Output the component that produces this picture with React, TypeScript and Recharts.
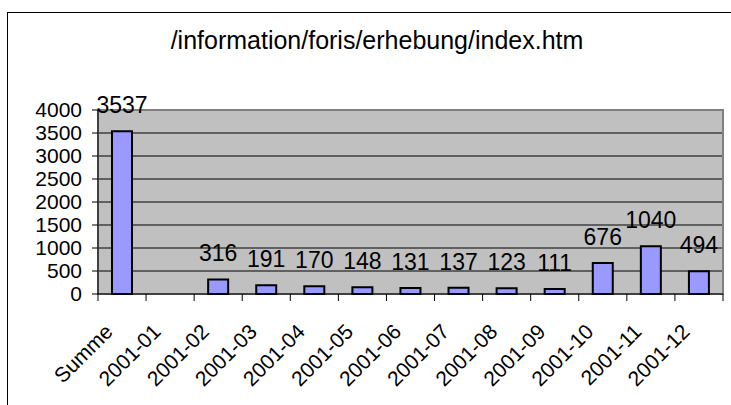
import { BarChart, Bar, XAxis, YAxis, CartesianGrid, ReferenceArea, LabelList } from 'recharts';

// page hits per month, "Summe" is the total
const months = ['Summe', '2001-01', '2001-02', '2001-03', '2001-04', '2001-05', '2001-06', '2001-07', '2001-08', '2001-09', '2001-10', '2001-11', '2001-12'];
const hits: (number | null)[] = [3537, null, 316, 191, 170, 148, 131, 137, 123, 111, 676, 1040, 494];
const yTicks = [0, 500, 1000, 1500, 2000, 2500, 3000, 3500, 4000];
const title = '/information/foris/erhebung/index.htm';

const data = months.map((month, i) => ({ month, hits: hits[i] }));

const FONT = '"Liberation Sans", Arial, sans-serif';

const MonthTick = (props: any) => {
  const { x, y, payload, index } = props;
  const half = payload.offset || 24;
  const isLast = index === months.length - 1;
  return (
    <g>
      <line x1={x - half} y1={y} x2={x - half} y2={y + 7} stroke="#000" />
      {isLast && <line x1={x + half} y1={y} x2={x + half} y2={y + 7} stroke="#000" />}
      <text
        transform={`translate(${x - 8},${y + 39}) rotate(-45)`}
        textAnchor="end"
        fontSize={21}
        fontFamily={FONT}
        fill="#000"
      >
        {payload.value}
      </text>
    </g>
  );
};

const HitLabel = (props: any) => {
  const { x, y, width, value } = props;
  if (value == null) return null;
  return (
    <text x={x + width / 2} y={y - 18} textAnchor="middle" fontSize={23} fontFamily={FONT} fill="#000">
      {value}
    </text>
  );
};

export default function App() {
  return (
    <div style={{ position: 'relative', width: 731, height: 405, overflow: 'hidden', background: '#fff' }}>
      <style>{'body{margin:0}'}</style>
      {/* outer chart frame, runs off the right and bottom edge */}
      <div style={{ position: 'absolute', left: 7, top: 12, width: 780, height: 440, border: '1px solid #000' }} />
      <svg style={{ position: 'absolute', left: 0, top: 0 }} width={731} height={60}>
        <text x={377} y={49} textAnchor="middle" fontSize={25} fontFamily={FONT} fill="#000">
          {title}
        </text>
      </svg>
      <div style={{ position: 'absolute', left: 0, top: 0 }}>
        <BarChart width={731} height={405} data={data} margin={{ top: 110, right: 8, bottom: 11, left: 38 }}>
          <CartesianGrid vertical={false} stroke="#000" fill="#C0C0C0" fillOpacity={1} />
          <ReferenceArea y1={0} y2={4000} fill="none" stroke="#808080" strokeWidth={2} ifOverflow="visible" />
          <XAxis
            dataKey="month"
            interval={0}
            height={100}
            tickSize={0}
            tickMargin={0}
            tickLine={false}
            axisLine={{ stroke: '#000' }}
            tick={<MonthTick />}
          />
          <YAxis
            domain={[0, 4000]}
            ticks={yTicks}
            interval={0}
            width={60}
            tickSize={6}
            tickMargin={10}
            axisLine={{ stroke: '#000' }}
            tickLine={{ stroke: '#000' }}
            tick={{ fill: '#000', fontSize: 21, fontFamily: FONT }}
          />
          <Bar dataKey="hits" fill="#9999FF" stroke="#000" strokeWidth={2} barSize={20} isAnimationActive={false}>
            <LabelList dataKey="hits" content={<HitLabel />} />
          </Bar>
        </BarChart>
      </div>
    </div>
  );
}
